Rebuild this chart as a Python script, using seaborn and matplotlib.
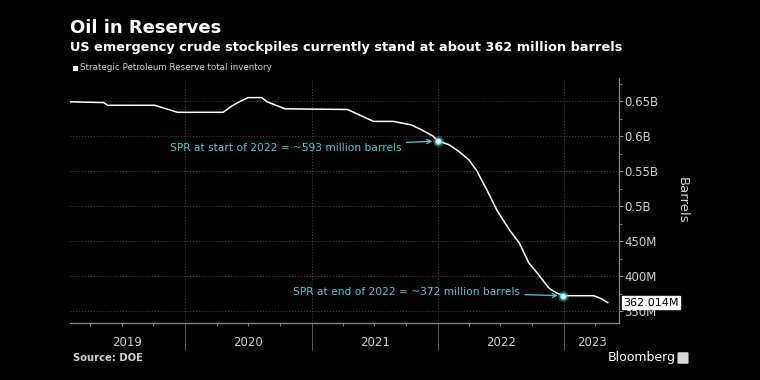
import matplotlib
matplotlib.use("Agg")
import matplotlib.pyplot as plt
import matplotlib.dates as mdates
import matplotlib.transforms as mtransforms
from matplotlib.patches import FancyBboxPatch
from matplotlib.ticker import FuncFormatter, MultipleLocator
import numpy as np
import pandas as pd
import seaborn as sns

# weekly SPR inventory (million barrels)
dates = ['2019-02-01', '2019-04-28', '2019-05-10', '2019-05-22', '2019-10-05',
         '2019-12-10', '2020-04-20', '2020-05-15', '2020-06-10', '2020-07-01',
         '2020-08-10', '2020-08-25', '2020-10-16', '2021-04-15', '2021-06-29',
         '2021-08-26', '2021-10-16', '2021-11-15', '2021-12-18', '2022-01-01',
         '2022-02-01', '2022-03-03', '2022-04-01', '2022-04-23', '2022-05-23',
         '2022-06-21', '2022-07-27', '2022-08-25', '2022-09-21', '2022-10-16',
         '2022-11-18', '2022-12-10', '2022-12-30', '2023-03-28', '2023-04-18',
         '2023-05-08']
spr_millions = [649, 648, 648, 644, 644,
                634, 634, 643, 650, 655,
                655, 649, 639, 638, 621,
                621, 616, 609, 600, 593,
                588, 578, 566, 551, 523,
                494, 466, 447, 419, 404,
                383, 376, 372, 372, 368,
                362.014]

callout_dates = ['2022-01-01', '2022-12-30']
callout_values = [593, 372]
callout_texts = ['SPR at start of 2022 = ~593 million barrels',
                 'SPR at end of 2022 = ~372 million barrels']

years = [2019, 2020, 2021, 2022, 2023]
y_ticks = [350, 400, 450, 500, 550, 600, 650]

x_start, x_end = pd.Timestamp('2019-02-02'), pd.Timestamp('2023-06-09')

df = pd.DataFrame({'date': pd.to_datetime(dates), 'barrels': spr_millions})

sns.set_theme(style='dark')
plt.rcParams['font.family'] = ['DejaVu Sans']
plt.rcParams['axes.facecolor'] = 'black'
plt.rcParams['figure.facecolor'] = 'black'

teal = '#5cc7c4'
grey = '#8a8a8a'
txt = '#d0d0d0'

fig = plt.figure(figsize=(7.6, 3.8), dpi=100)
ax = fig.add_axes([70/760, 1-323/380, 549/760, 245/380])

sns.lineplot(data=df, x='date', y='barrels', ax=ax, color='white', lw=1.1)

# callout dots + arrows
for d, v, t, off in zip(callout_dates, callout_values, callout_texts,
                        [(-26, -5), (-31, 3)]):
    d = pd.Timestamp(d)
    ax.scatter([d], [v], s=60, color=teal, alpha=0.4, lw=0, zorder=4)
    ax.scatter([d], [v], s=18, color='#e0ffff', edgecolor=teal, lw=0.8, zorder=5)
    ax.annotate(t, xy=(d, v), xytext=off, textcoords='offset points',
                ha='right', va='center', color=teal, fontsize=7.7,
                arrowprops=dict(arrowstyle='->', color=teal, lw=0.9,
                                shrinkA=1, shrinkB=4))

ax.set_xlim(x_start, x_end)
ax.set_ylim(333, 683)

# y axis on the right
ax.yaxis.tick_right()
ax.yaxis.set_label_position('right')
ax.set_yticks(y_ticks)
ax.yaxis.set_minor_locator(MultipleLocator(25))
ax.yaxis.set_major_formatter(FuncFormatter(
    lambda v, p: f'{v:g}M' if v < 500 else f'{v/1000:g}B'))
ax.tick_params(axis='y', which='major', right=True, length=3, width=0.8,
               color=grey, labelcolor=txt, labelsize=8.5, pad=1)
ax.tick_params(axis='y', which='minor', right=True, length=2, width=0.6, color=grey)
ax.set_ylabel('Barrels', rotation=270, color=txt, fontsize=9.5, labelpad=22)

# x axis: long separators at year starts, quarterly minor ticks
ax.set_xticks([pd.Timestamp(f'{y}-01-01') for y in years[1:]])
ax.xaxis.set_minor_locator(mdates.MonthLocator(bymonth=[4, 7, 10]))
ax.set_xticklabels([])
ax.tick_params(axis='x', which='major', bottom=True, length=19.5, width=0.7, color='#5a5a5a')
ax.tick_params(axis='x', which='minor', bottom=True, length=2, width=0.6, color=grey)
ax.set_xlabel('')

blend = mtransforms.blended_transform_factory(ax.transData, ax.transAxes)
for y in years:
    a = max(pd.Timestamp(f'{y}-01-01'), x_start)
    b = min(pd.Timestamp(f'{y+1}-01-01'), x_end)
    mid = a + (b - a) / 2
    ax.text(mid, -0.08, str(y), transform=blend, ha='center', va='center',
            color=txt, fontsize=8.5)

ax.grid(True, which='major', axis='both', color='#4a4a4a', ls=(0, (1, 2)), lw=0.7)
for s in ['top', 'left']:
    ax.spines[s].set_visible(False)
for s in ['right', 'bottom']:
    ax.spines[s].set_visible(True)
    ax.spines[s].set_color(grey)
    ax.spines[s].set_linewidth(0.9)

# last value tag, drawn over the 350M label like the original
last = df['barrels'].iloc[-1]
yblend = mtransforms.blended_transform_factory(ax.transAxes, ax.transData)
ax.text(1.008, last, f'{last:.3f}M', transform=yblend, ha='left', va='center',
        fontsize=8, color='black', zorder=10,
        bbox=dict(boxstyle='square,pad=0.12', fc='white', ec='white'))

# titles etc.
fig.text(70/760, 1-28/380, 'Oil in Reserves', color='white', fontsize=13,
         fontweight='bold', va='center', ha='left')
fig.text(70/760, 1-47/380,
         'US emergency crude stockpiles currently stand at about 362 million barrels',
         color='white', fontsize=9.25, fontweight='bold', va='center', ha='left')
fig.patches.append(FancyBboxPatch((73/760, 1-71/380), 5/760, 5/380, boxstyle='square,pad=0',
                                  fc='white', ec='none', transform=fig.transFigure))
fig.text(80/760, 1-68/380, 'Strategic Petroleum Reserve total inventory',
         color=txt, fontsize=6.3, va='center', ha='left')
fig.text(73/760, 1-358/380, 'Source: DOE', color=txt, fontsize=7.2,
         fontweight='bold', va='center', ha='left')
fig.text(676/760, 1-358/380, 'Bloomberg', color='white', fontsize=9,
         va='center', ha='right')
fig.patches.append(FancyBboxPatch((679/760, 1-363/380), 8/760, 10/380,
                                  boxstyle='round,pad=0.002', fc='#d8d8d8', ec='none',
                                  transform=fig.transFigure))

fig.savefig('out.png', dpi=100, facecolor='black')
